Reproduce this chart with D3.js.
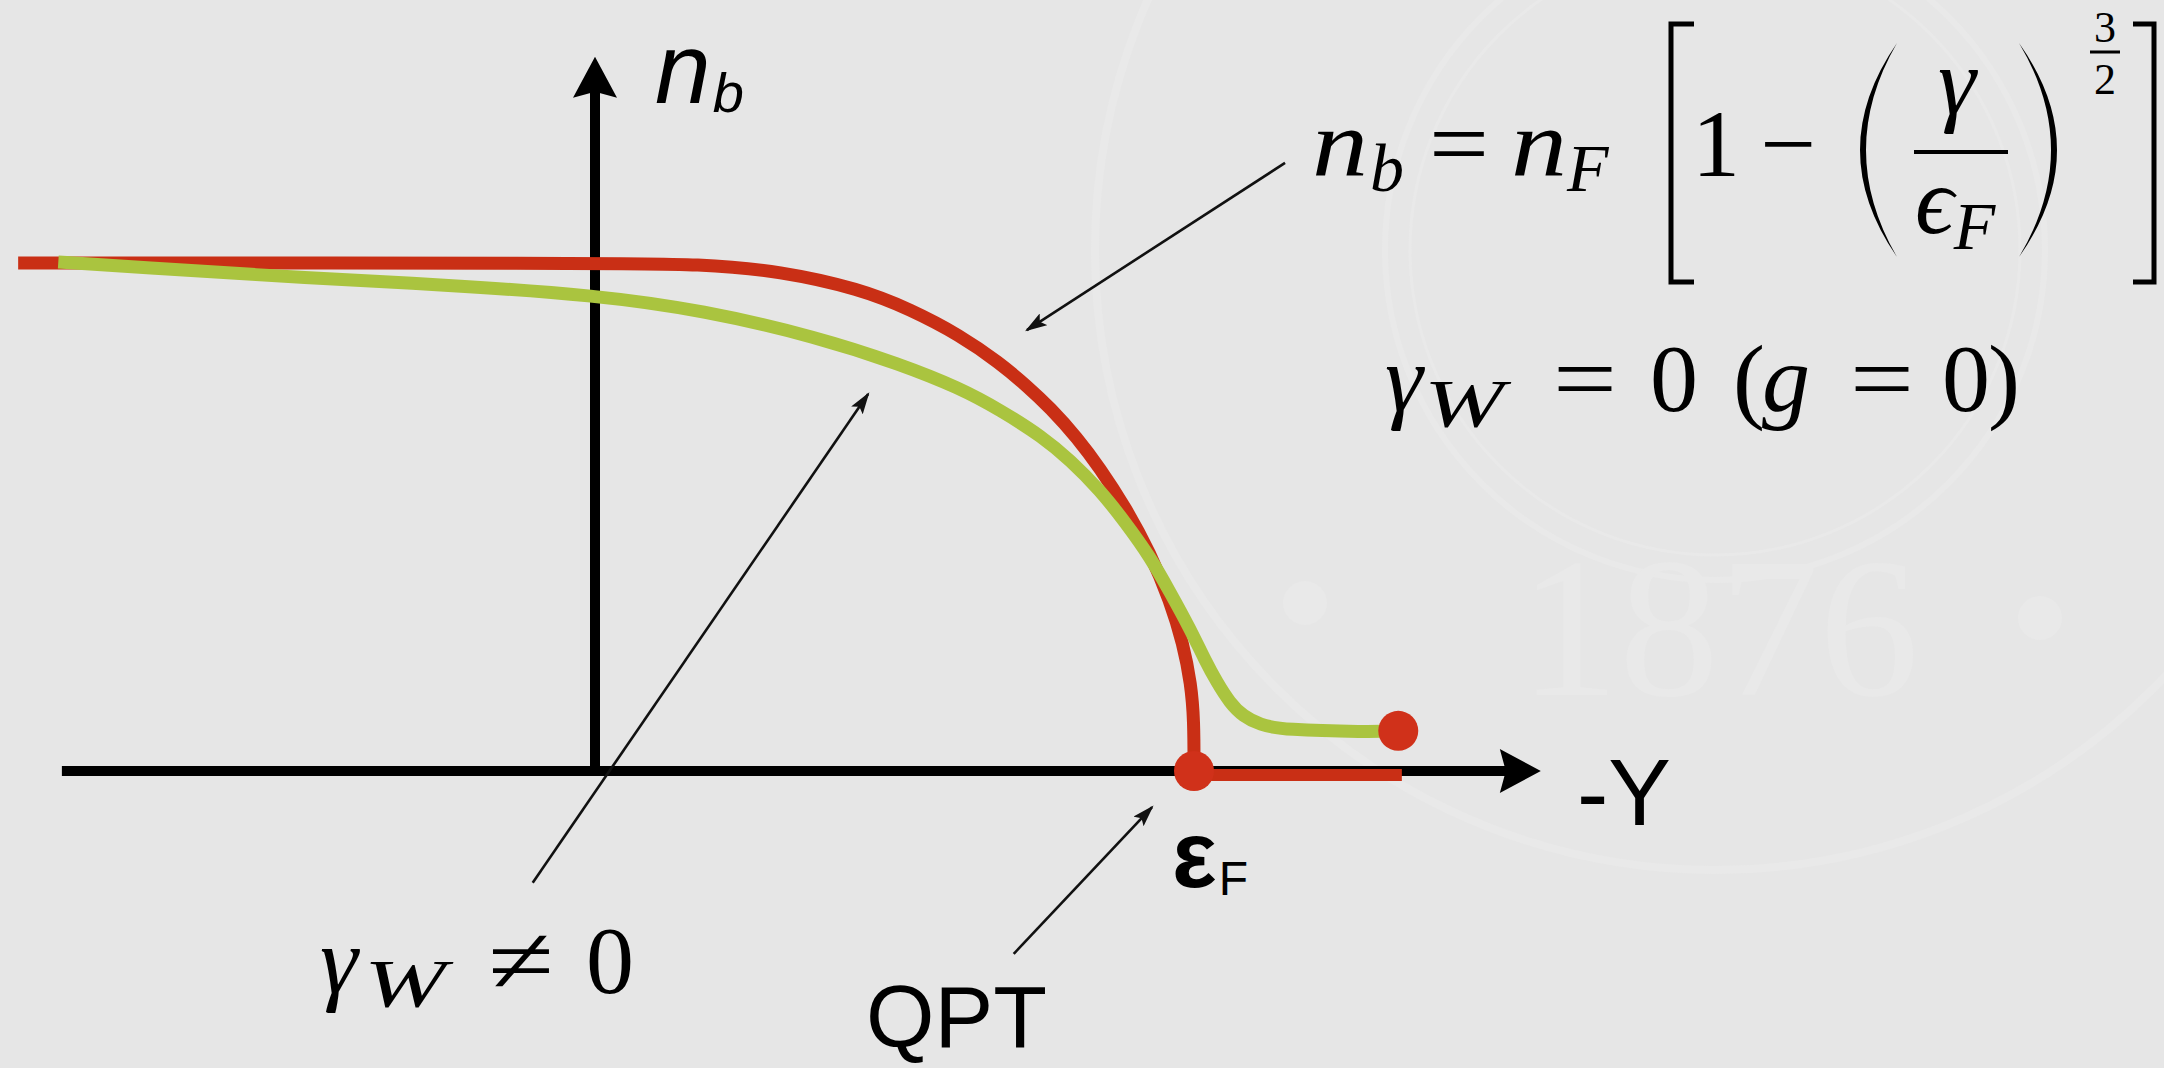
<!DOCTYPE html>
<html>
<head>
<meta charset="utf-8">
<script src="https://cdn.jsdelivr.net/npm/d3@7"></script>
<style>
  html, body { margin: 0; padding: 0; background: #e6e6e6; overflow: hidden; }
  svg { display: block; }
</style>
</head>
<body>
<svg id="chart" width="2164" height="1068"></svg>
<script>
// n_b as a function of -γ. x in units of ε_F, y in units of the plateau density n_F.

// γ_W = 0 (g = 0): n_b = n_F [1 - (γ/ε_F)^(3/2)], reaching zero at ε_F
const cleanCurve = [
  [-0.963, 1.000], [0.000, 1.000], [0.180, 0.998], [0.309, 0.984], [0.442, 0.949],
  [0.526, 0.909], [0.609, 0.858], [0.676, 0.803], [0.721, 0.758], [0.760, 0.715],
  [0.805, 0.656], [0.843, 0.596], [0.885, 0.520], [0.927, 0.429], [0.960, 0.335],
  [0.982, 0.250], [0.995, 0.171], [1.000, 0.100], [1.000, 0.000]
];
// beyond ε_F the density stays at zero
const cleanTail = [[1.000, -0.008], [1.347, -0.008]];

// γ_W ≠ 0: smooth crossover, finite density past ε_F
const dampedCurve = [
  [-0.896, 1.002], [-0.770, 0.992], [-0.472, 0.970], [-0.249, 0.957], [0.000, 0.937],
  [0.180, 0.907], [0.372, 0.854], [0.509, 0.801], [0.609, 0.754], [0.676, 0.711],
  [0.748, 0.657], [0.793, 0.612], [0.843, 0.553], [0.885, 0.490], [0.927, 0.421],
  [0.960, 0.352], [0.993, 0.281], [1.018, 0.219], [1.038, 0.175], [1.060, 0.134],
  [1.082, 0.108], [1.110, 0.091], [1.149, 0.081], [1.289, 0.077], [1.341, 0.079]
];

// end markers: the QPT at ε_F and the end of the γ_W ≠ 0 branch
const endPoints = [[1.000, 0.000], [1.341, 0.079]];

// axis extents (data units)
const xAxisSpan = [-0.89, 1.579];
const yAxisSpan = [0, 1.406];

// annotation pointers: [from, to]
const pointers = [
  [[1.152, 1.197], [0.721, 0.868]],
  [[-0.104, -0.220], [0.456, 0.742]],
  [[0.699, -0.360], [0.930, -0.071]]
];

// axis labels
const axisLabels = ["n", "b", "-Y", "ε", "F", "QPT"];

const W = 2164, H = 1068;
const svg = d3.select("#chart");

const x = d3.scaleLinear().domain([0, 1]).range([595, 1194]);
const y = d3.scaleLinear().domain([0, 1]).range([771, 263]);

const RED = "#c92f15";
const GREEN = "#aac43f";
const INK = "#000000";
const SANS = "'Liberation Sans', Arial, Helvetica, sans-serif";
const SERIF = "'Liberation Serif', 'DejaVu Serif', 'Times New Roman', serif";

// background
svg.append("rect").attr("width", W).attr("height", H).attr("fill", "#e6e6e6");

// faint seal in the background
const SEAL = "#e9e9e9";
const seal = svg.append("g").attr("fill", "none").attr("stroke", SEAL);
seal.append("circle").attr("cx", 1715).attr("cy", 250).attr("r", 330).attr("stroke-width", 6);
seal.append("circle").attr("cx", 1715).attr("cy", 250).attr("r", 305).attr("stroke-width", 3);
seal.append("circle").attr("cx", 1715).attr("cy", 250).attr("r", 620).attr("stroke-width", 8);
svg.append("g").attr("fill", SEAL).selectAll("circle")
  .data([[1305, 603], [2040, 618]]).join("circle")
  .attr("cx", d => d[0]).attr("cy", d => d[1]).attr("r", 22);
svg.append("text").text("1876")
  .attr("x", 1719).attr("y", 695).attr("text-anchor", "middle")
  .attr("font-family", SERIF).attr("font-size", 200)
  .attr("fill", SEAL);

// pointer arrowhead
const defs = svg.append("defs");
defs.append("marker")
  .attr("id", "tip").attr("viewBox", "0 0 10 10")
  .attr("refX", 9).attr("refY", 5)
  .attr("markerWidth", 22).attr("markerHeight", 14)
  .attr("markerUnits", "userSpaceOnUse")
  .attr("preserveAspectRatio", "none")
  .attr("orient", "auto")
  .append("path").attr("d", "M0,0 L10,5 L0,10 L2,5 Z").attr("fill", "#111");

// axes with arrowheads
const axes = svg.append("g");
const ax0 = y(0), ay0 = x(0);
const headL = 41, headW = 44, notch = 6;
const xTip = x(xAxisSpan[1]);
const yTip = y(yAxisSpan[1]);
axes.append("line")
  .attr("x1", x(xAxisSpan[0])).attr("x2", xTip - headL + notch + 2)
  .attr("y1", ax0).attr("y2", ax0)
  .attr("stroke", INK).attr("stroke-width", 10);
axes.append("path")
  .attr("d", `M${xTip},${ax0} L${xTip - headL},${ax0 - headW / 2} L${xTip - headL + notch},${ax0} L${xTip - headL},${ax0 + headW / 2} Z`)
  .attr("fill", INK);
axes.append("line")
  .attr("x1", ay0).attr("x2", ay0)
  .attr("y1", y(yAxisSpan[0]) + 5).attr("y2", yTip + headL - notch - 2)
  .attr("stroke", INK).attr("stroke-width", 10);
axes.append("path")
  .attr("d", `M${ay0},${yTip} L${ay0 - headW / 2},${yTip + headL} L${ay0},${yTip + headL - notch} L${ay0 + headW / 2},${yTip + headL} Z`)
  .attr("fill", INK);

// curves
const line = d3.line()
  .x(d => x(d[0])).y(d => y(d[1]))
  .curve(d3.curveBasis);

svg.append("path").datum(cleanCurve)
  .attr("d", line).attr("fill", "none")
  .attr("stroke", RED).attr("stroke-width", 13)
  .attr("stroke-linejoin", "round");
svg.append("path").datum(cleanTail)
  .attr("d", d3.line().x(d => x(d[0])).y(d => y(d[1])))
  .attr("fill", "none").attr("stroke", RED).attr("stroke-width", 12);
svg.append("path").datum(dampedCurve)
  .attr("d", line).attr("fill", "none")
  .attr("stroke", GREEN).attr("stroke-width", 13)
  .attr("stroke-linejoin", "round");

svg.append("g").selectAll("circle").data(endPoints).join("circle")
  .attr("cx", d => x(d[0])).attr("cy", d => y(d[1]))
  .attr("r", 20).attr("fill", "#d0311a");

// pointers
svg.append("g").selectAll("line").data(pointers).join("line")
  .attr("x1", d => x(d[0][0])).attr("y1", d => y(d[0][1]))
  .attr("x2", d => x(d[1][0])).attr("y2", d => y(d[1][1]))
  .attr("stroke", "#111").attr("stroke-width", 2.6)
  .attr("marker-end", "url(#tip)");

// text helper
function put(str, px, py, size, opt = {}) {
  const t = svg.append("text").text(str)
    .attr("x", px).attr("y", py)
    .attr("font-size", size)
    .attr("font-family", opt.family || SERIF)
    .attr("font-style", opt.italic ? "italic" : "normal")
    .attr("font-weight", opt.weight || "normal")
    .attr("fill", INK);
  if (opt.len) t.attr("textLength", opt.len).attr("lengthAdjust", "spacingAndGlyphs");
  if (opt.anchor) t.attr("text-anchor", opt.anchor);
  return t;
}
// advance of a placed piece
const adv = t => t.node().getComputedTextLength();

// axis labels (sans)
const nLab = put(axisLabels[0], 655, 103, 100, { family: SANS, italic: true });
put(axisLabels[1], 655 + adv(nLab) + 2, 112, 56, { family: SANS, italic: true });
put(axisLabels[2], 1577, 825, 94, { family: SANS });
const eLab = put(axisLabels[3], x(1) - 22, 887, 94, { family: SANS, weight: "bold" });
put(axisLabels[4], x(1) - 22 + adv(eLab) + 2, 895, 48, { family: SANS });
put(axisLabels[5], 866, 1047, 88, { family: SANS });

// formula: n_b = n_F [ 1 − (γ/ϵ_F) ]^{3/2}
const M = 96, S = 68;
put("n", 1312, 176, M, { italic: true, len: 56 });
put("b", 1312 + 58, 191, S, { italic: true });
put("=", 1429, 176, M, { len: 60 });
put("n", 1511, 176, M, { italic: true, len: 56 });
put("F", 1511 + 56, 191, S, { italic: true });
put("1", 1692, 176, M);
put("−", 1760, 176, M, { len: 56 });
put("γ", 1938, 114, M, { italic: true });
const eps = put("ϵ", 1915, 233, M, { italic: true });
put("F", 1915 + adv(eps), 249, S, { italic: true });
put("3", 2094, 42, 44);
put("2", 2094, 94, 44);

const strokes = svg.append("g").attr("stroke", INK).attr("fill", "none");
// brackets
strokes.append("path").attr("d", "M1694,24 H1671 V282 H1694").attr("stroke-width", 5);
strokes.append("path").attr("d", "M2133,24 H2154 V282 H2133").attr("stroke-width", 5);
// fraction bars
strokes.append("line").attr("x1", 1914).attr("x2", 2008).attr("y1", 152).attr("y2", 152).attr("stroke-width", 4);
strokes.append("line").attr("x1", 2090).attr("x2", 2120).attr("y1", 52).attr("y2", 52).attr("stroke-width", 3);
// large parentheses
svg.append("path").attr("fill", INK)
  .attr("d", "M1897,43 Q1823,150 1897,257 Q1835,150 1897,43 Z");
svg.append("path").attr("fill", INK)
  .attr("d", "M2019,43 Q2095,150 2019,257 Q2083,150 2019,43 Z");

// γ_W = 0 (g = 0)
put("γ", 1385, 411, M, { italic: true });
put("W", 1424, 426, S, { italic: true, len: 80 });
put("=", 1553, 411, M, { len: 64 });
put("0", 1650, 411, M);
put("(", 1733, 411, M);
put("g", 1762, 411, M, { italic: true });
put("=", 1850, 411, M, { len: 64 });
put("0", 1942, 411, M);
put(")", 1988, 411, M);

// γ_W ≠ 0
put("γ", 320, 993, M, { italic: true });
put("W", 364, 1006, S, { italic: true, len: 82 });
put("≠", 488, 993, M, { len: 66 });
put("0", 586, 993, M);
</script>
</body>
</html>
